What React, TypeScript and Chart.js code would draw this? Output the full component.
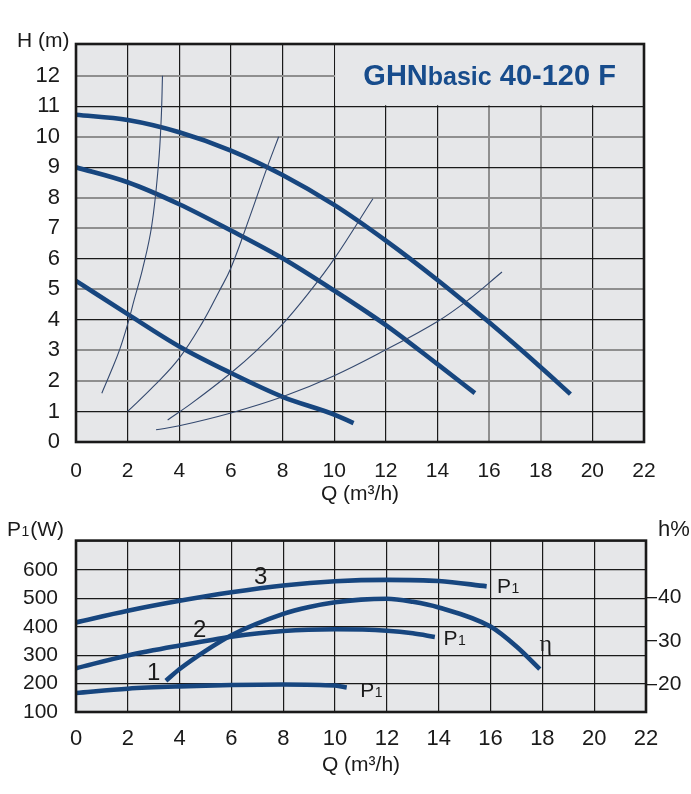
import { useEffect, useRef } from 'react';
import { Chart, registerables } from 'chart.js';

// Enregistrer tous les contrôleurs, éléments, échelles et plugins
Chart.register(...registerables);

const FONT = "'Liberation Sans', Arial, Helvetica, sans-serif";
const INK = '#1a1a1a';
const CURVE = '#17467f';
const THIN = '#34496f';
const PLOT_BG = '#e6e7e9';
const TITLE_BLUE = '#174c8c';
const GREY_LINE = '#8f8f8f';

// Graduations
const flowTicks = [0, 2, 4, 6, 8, 10, 12, 14, 16, 18, 20, 22];
const headTicks = [0, 1, 2, 3, 4, 5, 6, 7, 8, 9, 10, 11, 12];
const powerTicks = [100, 200, 300, 400, 500, 600];
const effTicks = [20, 30, 40];

// Courbes H(Q) aux trois vitesses
const flowSpeed3 = [0, 2, 4, 6, 8, 10, 12, 14, 16, 18, 19.15];
const headSpeed3 = [10.72, 10.55, 10.15, 9.55, 8.75, 7.77, 6.6, 5.31, 3.92, 2.45, 1.57];
const flowSpeed2 = [0, 2, 4, 6, 8, 10, 12, 14, 15.45];
const headSpeed2 = [9.0, 8.51, 7.79, 6.93, 6.02, 4.96, 3.83, 2.55, 1.6];
const flowSpeed1 = [0, 2, 4, 6, 8, 10, 10.75];
const headSpeed1 = [5.28, 4.19, 3.13, 2.26, 1.48, 0.9, 0.62];

// Courbes de réseau (traits fins)
const flowSys1 = [1.0, 1.35, 1.68, 2.0, 2.26, 2.58, 2.93, 3.19, 3.3, 3.35];
const headSys1 = [1.6, 2.3, 3.0, 3.86, 4.68, 5.67, 7.07, 9.05, 10.58, 12.0];
const flowSys2 = [2.0, 3.0, 4.0, 4.9, 5.55, 6.0, 6.74, 7.38, 7.85];
const headSys2 = [1.0, 1.82, 2.75, 3.92, 4.95, 5.7, 7.4, 8.94, 10.0];
const flowSys3 = [3.55, 4.5, 6.0, 7.0, 8.0, 9.0, 10.0, 11.5];
const headSys3 = [0.72, 1.28, 2.26, 3.0, 3.86, 4.87, 6.0, 7.97];
const flowSys4 = [3.1, 4, 6, 8, 10, 12, 14, 15.2, 16.5];
const headSys4 = [0.4, 0.53, 0.95, 1.48, 2.17, 3.02, 3.95, 4.66, 5.57];

// Puissance absorbée P1 (W) et rendement (%)
const flowP3 = [0, 2, 4, 6, 8, 10, 12, 14, 15.85];
const powerP3 = [415, 456, 491, 521, 545, 560, 565, 561, 542];
const flowP2 = [0, 2, 4, 6, 8, 10, 12, 13, 13.85];
const powerP2 = [254, 299, 334, 365, 385, 391, 386, 377, 364];
const flowP1 = [0, 2, 4, 6, 8, 10, 10.45];
const powerP1 = [167, 182, 190, 195, 197, 193, 186];
const flowEff = [3.47, 4, 5, 6, 8, 9, 10, 11, 12, 13, 14, 16, 17, 17.9];
const effValues = [20.8, 23.5, 27.7, 31.3, 36.2, 37.8, 38.9, 39.5, 39.7, 39.0, 37.7, 33.3, 28.7, 23.5];

// Repères des étiquettes (en unités Q / P1)
const speedLabels = [
  { text: '3', q: 6.87, p: 552 },
  { text: '2', q: 4.52, p: 363 },
  { text: '1', q: 2.74, p: 213 },
];
const p1Labels = [
  { q: 16.25, p: 517 },
  { q: 14.18, p: 334 },
  { q: 10.97, p: 153 },
];
const etaLabel = { q: 17.89, p: 313 };

// Lignes de grille grisées (comme sur le scan)
const greyHeadLines = [2, 3, 5, 7, 8, 10, 12];
const greyFlowLines = [16, 18];

function points(xs: number[], ys: number[]) {
  return xs.map((x, i) => ({ x, y: ys[i] }));
}

// Courbes épaisses : interpolation monotone ; traits fins : tension
function curve(xs: number[], ys: number[], thick: boolean, yAxisID = 'y') {
  return {
    data: points(xs, ys),
    yAxisID,
    showLine: true,
    borderColor: thick ? CURVE : THIN,
    borderWidth: thick ? 4.6 : 1.1,
    borderCapStyle: 'butt' as const,
    pointRadius: 0,
    cubicInterpolationMode: thick ? ('monotone' as const) : ('default' as const),
    tension: thick ? 0 : 0.4,
    fill: false,
  };
}

function fixedTicks(values: number[]) {
  return (scale: any) => {
    scale.ticks = values.map((value) => ({ value }));
  };
}

const plotBackground = {
  id: 'plotBackground',
  beforeDraw(chart: any) {
    const { ctx, chartArea: a } = chart;
    ctx.save();
    ctx.fillStyle = PLOT_BG;
    ctx.fillRect(a.left, a.top, a.right - a.left, a.bottom - a.top);
    ctx.restore();
  },
};

const plotFrame = {
  id: 'plotFrame',
  afterDatasetsDraw(chart: any) {
    const { ctx, chartArea: a } = chart;
    ctx.save();
    ctx.strokeStyle = INK;
    ctx.lineWidth = 2.6;
    ctx.strokeRect(a.left, a.top, a.right - a.left, a.bottom - a.top);
    ctx.restore();
  },
};

function drawP1(ctx: CanvasRenderingContext2D, text: string, x: number, y: number, size: number) {
  ctx.font = `${size}px ${FONT}`;
  ctx.fillText('P', x, y);
  let w = ctx.measureText('P').width + 0.5;
  ctx.font = `${Math.round(size * 0.68)}px ${FONT}`;
  ctx.fillText('1', x + w, y);
  w += ctx.measureText('1').width + 1;
  if (text) {
    ctx.font = `${size}px ${FONT}`;
    ctx.fillText(text, x + w, y);
  }
}

// Cartouche du titre, en haut à droite
const titleBox = {
  id: 'titleBox',
  beforeDatasetsDraw(chart: any) {
    const { ctx, chartArea: a, scales } = chart;
    const x0 = scales.x.getPixelForValue(10) + 1;
    const y1 = scales.y.getPixelForValue(11) - 1;
    ctx.save();
    ctx.fillStyle = PLOT_BG;
    ctx.fillRect(x0, a.top, a.right - x0, y1 - a.top);

    const parts: [string, number][] = [['GHN', 29], ['basic', 25], [' 40-120 F', 29]];
    let total = 0;
    for (const [t, s] of parts) {
      ctx.font = `bold ${s}px ${FONT}`;
      total += ctx.measureText(t).width;
    }
    let x = (x0 + a.right) / 2 - total / 2;
    const y = (a.top + y1) / 2 + 10.5;
    ctx.fillStyle = TITLE_BLUE;
    ctx.textBaseline = 'alphabetic';
    for (const [t, s] of parts) {
      ctx.font = `bold ${s}px ${FONT}`;
      ctx.fillText(t, x, y);
      x += ctx.measureText(t).width;
    }
    ctx.restore();
  },
};

const headTexts = {
  id: 'headTexts',
  afterDraw(chart: any) {
    const { ctx, chartArea: a } = chart;
    ctx.save();
    ctx.fillStyle = INK;
    ctx.textBaseline = 'alphabetic';
    ctx.font = `21px ${FONT}`;
    ctx.textAlign = 'left';
    ctx.fillText('H (m)', 17, 47);
    ctx.textAlign = 'center';
    ctx.fillText('Q (m³/h)', (a.left + a.right) / 2, 500);
    ctx.restore();
  },
};

const powerTexts = {
  id: 'powerTexts',
  afterDraw(chart: any) {
    const { ctx, chartArea: a, scales } = chart;
    const x = scales.x;
    const y = scales.y;
    ctx.save();
    ctx.fillStyle = INK;
    ctx.textBaseline = 'alphabetic';
    ctx.textAlign = 'left';
    drawP1(ctx, '(W)', 7, 26, 21);
    ctx.font = `22px ${FONT}`;
    ctx.fillText('h%', 658, 26);
    ctx.textAlign = 'center';
    ctx.font = `21px ${FONT}`;
    ctx.fillText('Q (m³/h)', (a.left + a.right) / 2, 261);

    ctx.textAlign = 'left';
    ctx.font = `24px ${FONT}`;
    for (const l of speedLabels) {
      ctx.fillText(l.text, x.getPixelForValue(l.q), y.getPixelForValue(l.p));
    }
    for (const l of p1Labels) {
      drawP1(ctx, '', x.getPixelForValue(l.q), y.getPixelForValue(l.p), 21);
    }
    ctx.font = `24px 'Liberation Serif', 'Times New Roman', serif`;
    ctx.fillText('η', x.getPixelForValue(etaLabel.q), y.getPixelForValue(etaLabel.p));
    ctx.restore();
  },
};

function HeadChart() {
  const chartRef = useRef<HTMLCanvasElement>(null);
  const chartInstance = useRef<Chart | null>(null);

  useEffect(() => {
    if (!chartRef.current) return;
    if (chartInstance.current) chartInstance.current.destroy();

    const ctx = chartRef.current.getContext('2d');
    if (!ctx) return;

    chartInstance.current = new Chart(ctx, {
      type: 'scatter',
      data: {
        datasets: [
          curve(flowSys1, headSys1, false),
          curve(flowSys2, headSys2, false),
          curve(flowSys3, headSys3, false),
          curve(flowSys4, headSys4, false),
          curve(flowSpeed3, headSpeed3, true),
          curve(flowSpeed2, headSpeed2, true),
          curve(flowSpeed1, headSpeed1, true),
        ] as any,
      },
      options: {
        animation: false,
        responsive: false,
        layout: { padding: { top: 44, right: 47, left: 0, bottom: 0 } },
        plugins: { legend: { display: false }, tooltip: { enabled: false } },
        scales: {
          x: {
            type: 'linear',
            min: 0,
            max: 22,
            afterBuildTicks: fixedTicks(flowTicks),
            afterFit: (s: any) => {
              s.height = 68;
            },
            ticks: { font: { family: FONT, size: 21 }, color: INK, padding: 17, maxRotation: 0, autoSkip: false },
            grid: {
              drawTicks: false,
              color: (c: any) => (greyFlowLines.includes(c.tick?.value) ? GREY_LINE : INK),
              lineWidth: (c: any) => (greyFlowLines.includes(c.tick?.value) ? 2 : 1.2),
            },
            border: { display: false },
          },
          y: {
            type: 'linear',
            min: 0,
            max: 13.04,
            afterBuildTicks: fixedTicks(headTicks),
            afterFit: (s: any) => {
              s.width = 76;
            },
            ticks: { font: { family: FONT, size: 22 }, color: INK, padding: 16, autoSkip: false },
            grid: {
              drawTicks: false,
              color: (c: any) => (greyHeadLines.includes(c.tick?.value) ? GREY_LINE : INK),
              lineWidth: (c: any) => (greyHeadLines.includes(c.tick?.value) ? 2 : 1.2),
            },
            border: { display: false },
          },
        },
      } as any,
      plugins: [plotBackground, titleBox, plotFrame, headTexts],
    });

    // Nettoyage lors du démontage du composant
    return () => {
      if (chartInstance.current) {
        chartInstance.current.destroy();
        chartInstance.current = null;
      }
    };
  }, []);

  return <canvas ref={chartRef} width={691} height={510} style={{ display: 'block' }} />;
}

function PowerChart() {
  const chartRef = useRef<HTMLCanvasElement>(null);
  const chartInstance = useRef<Chart | null>(null);

  useEffect(() => {
    if (!chartRef.current) return;
    if (chartInstance.current) chartInstance.current.destroy();

    const ctx = chartRef.current.getContext('2d');
    if (!ctx) return;

    chartInstance.current = new Chart(ctx, {
      type: 'scatter',
      data: {
        datasets: [
          curve(flowP3, powerP3, true),
          curve(flowP2, powerP2, true),
          curve(flowP1, powerP1, true),
          curve(flowEff, effValues, true, 'y1'),
        ] as any,
      },
      options: {
        animation: false,
        responsive: false,
        layout: { padding: { top: 20.7, right: 0, left: 0, bottom: 0 } },
        plugins: { legend: { display: false }, tooltip: { enabled: false } },
        scales: {
          x: {
            type: 'linear',
            min: 0,
            max: 22,
            afterBuildTicks: fixedTicks(flowTicks),
            afterFit: (s: any) => {
              s.height = 82;
            },
            ticks: { font: { family: FONT, size: 22 }, color: INK, padding: 14, maxRotation: 0, autoSkip: false },
            grid: { drawTicks: false, color: INK, lineWidth: 1.2 },
            border: { display: false },
          },
          y: {
            type: 'linear',
            position: 'left',
            min: 100,
            max: 703,
            afterBuildTicks: fixedTicks(powerTicks),
            afterFit: (s: any) => {
              s.width = 76;
            },
            ticks: { font: { family: FONT, size: 21 }, color: INK, padding: 18, autoSkip: false },
            grid: { drawTicks: false, color: INK, lineWidth: 1.2 },
            border: { display: false },
          },
          y1: {
            type: 'linear',
            position: 'right',
            min: 13.6,
            max: 53.1,
            afterBuildTicks: fixedTicks(effTicks),
            afterFit: (s: any) => {
              s.width = 45;
            },
            ticks: { font: { family: FONT, size: 21 }, color: INK, padding: 1, autoSkip: false },
            grid: { drawOnChartArea: false, drawTicks: true, tickLength: 11, color: INK, lineWidth: 1.3 },
            border: { display: false },
          },
        },
      } as any,
      plugins: [plotBackground, plotFrame, powerTexts],
    });

    // Nettoyage lors du démontage du composant
    return () => {
      if (chartInstance.current) {
        chartInstance.current.destroy();
        chartInstance.current = null;
      }
    };
  }, []);

  return <canvas ref={chartRef} width={691} height={284} style={{ display: 'block' }} />;
}

export default function App() {
  return (
    <div style={{ position: 'absolute', left: 0, top: 0, width: 691, height: 794, background: '#fff' }}>
      <HeadChart />
      <PowerChart />
    </div>
  );
}
